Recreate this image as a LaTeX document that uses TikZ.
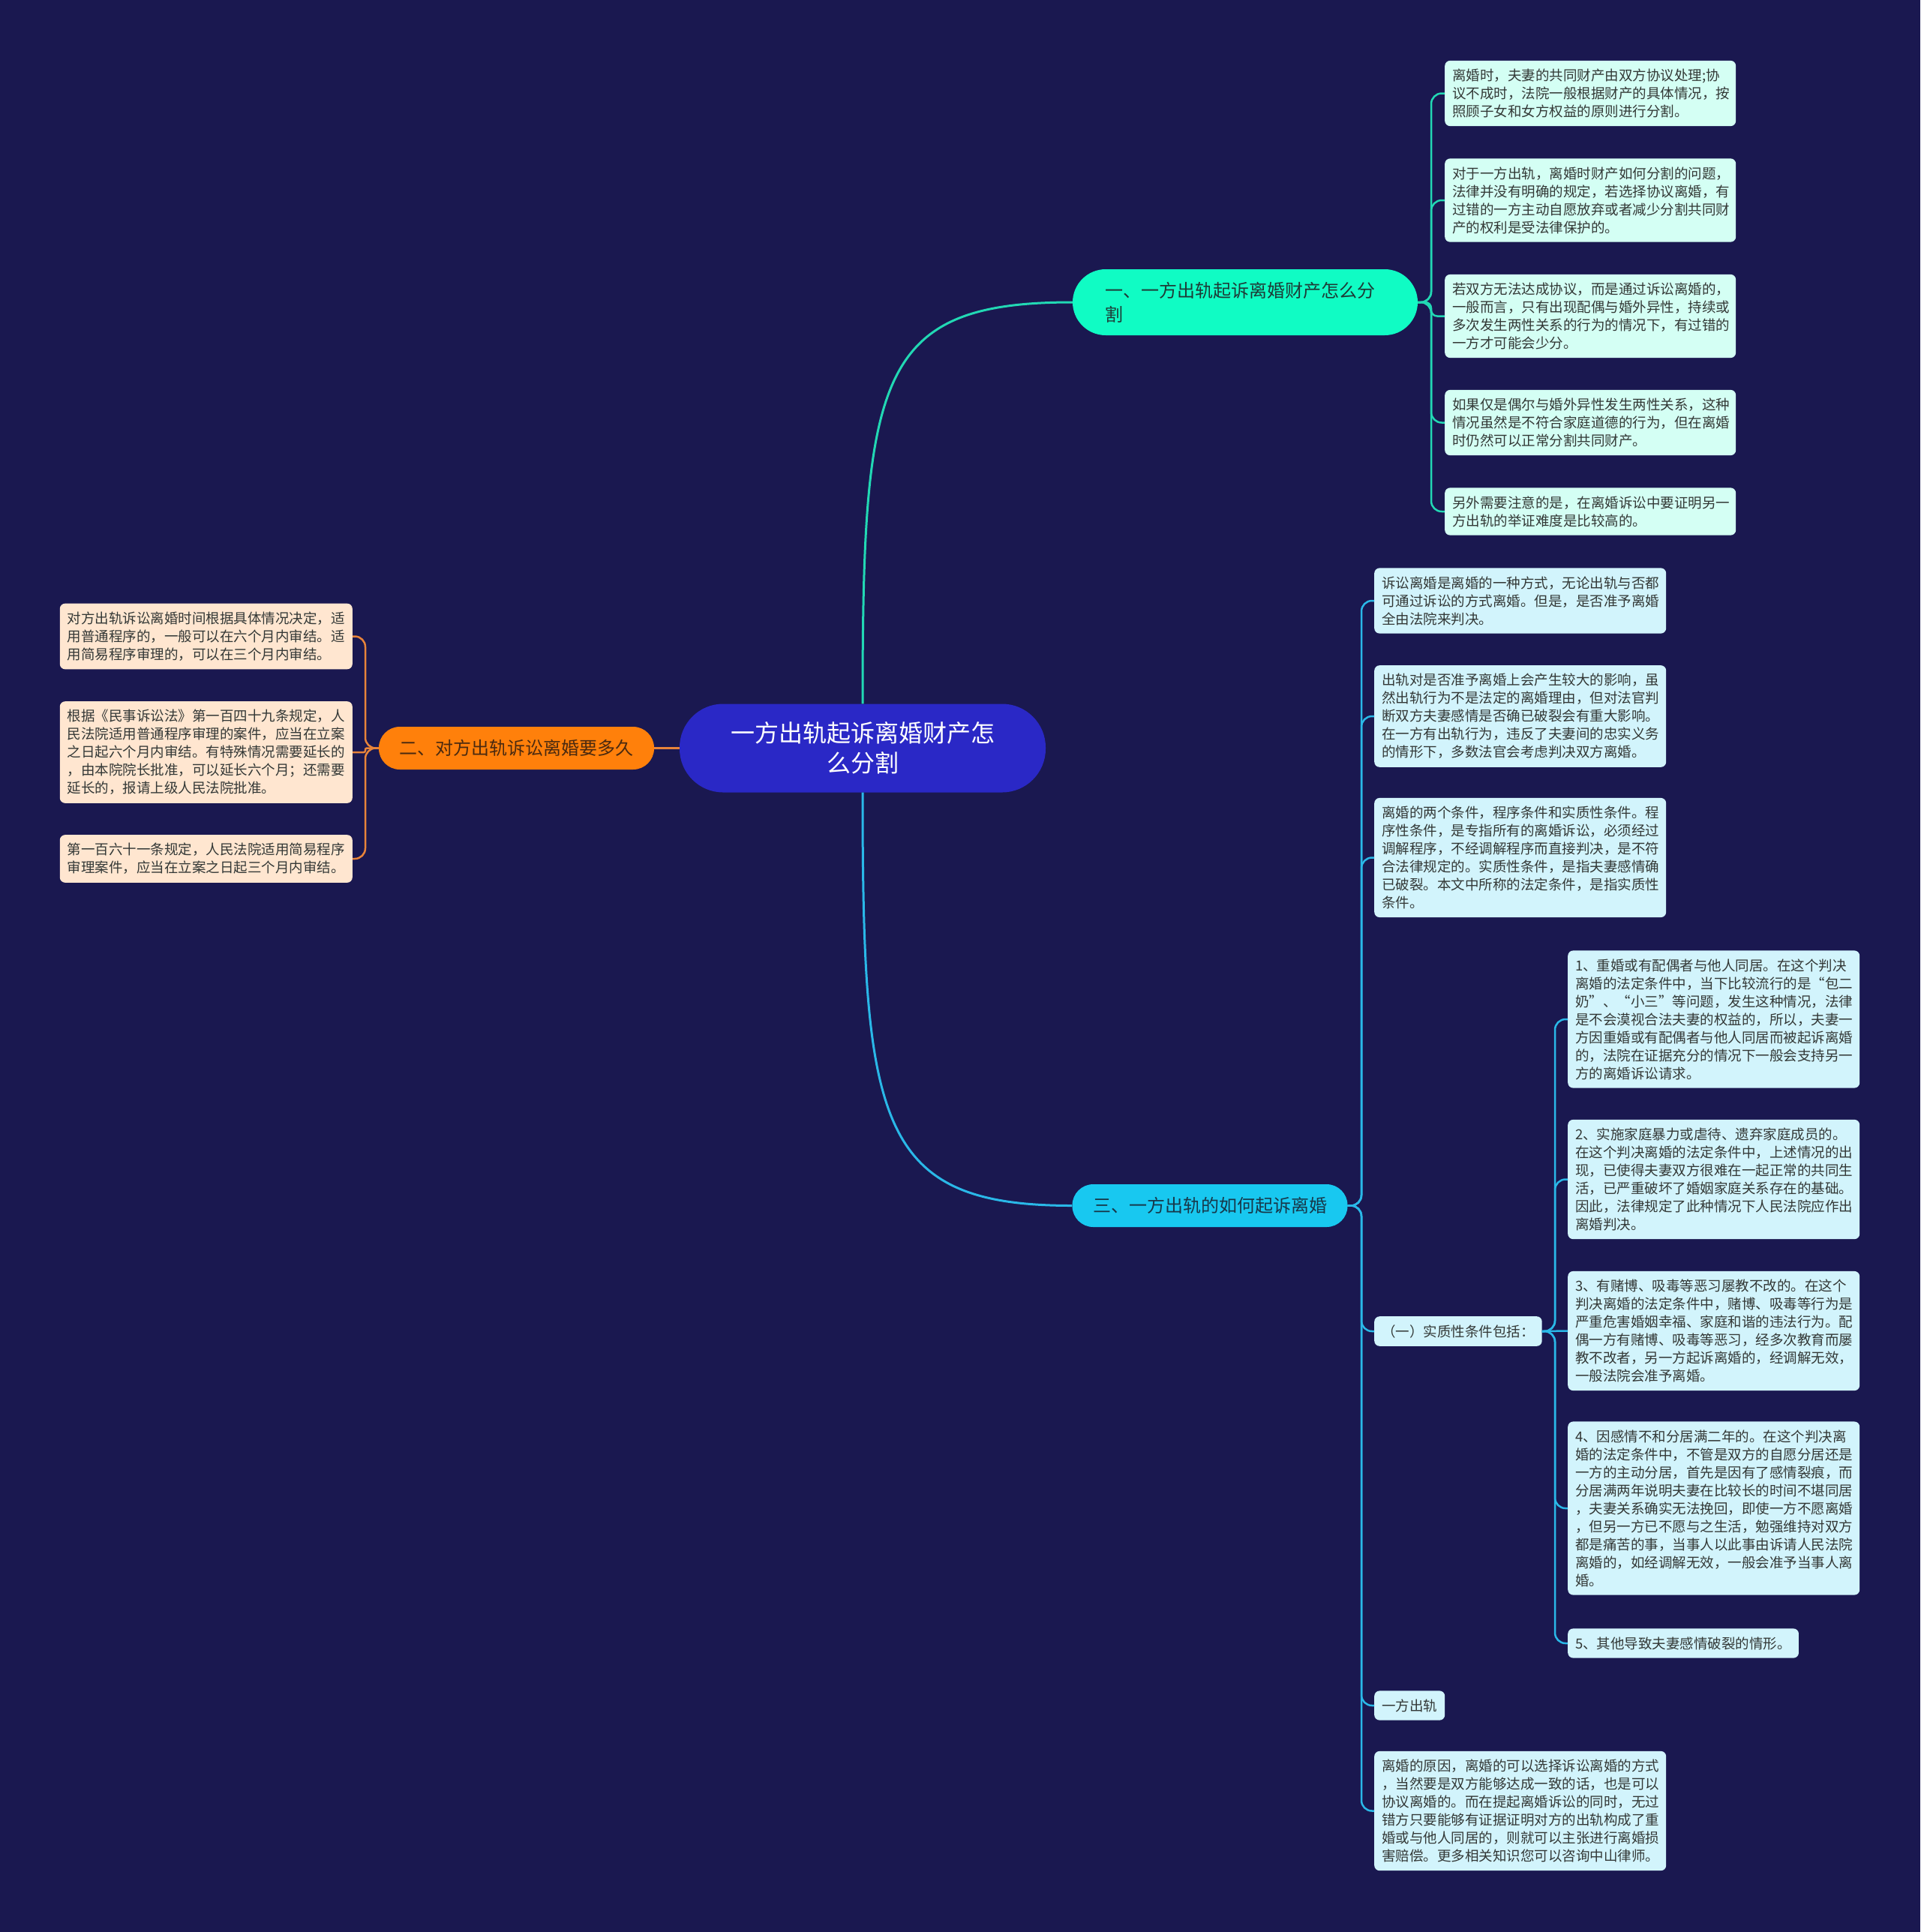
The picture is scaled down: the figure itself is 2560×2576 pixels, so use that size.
\documentclass[tikz,border=0pt]{standalone}
\usepackage{fontspec}
\setmainfont{Noto Sans CJK SC}
\usetikzlibrary{calc}
\definecolor{bgc}{HTML}{1A1850}
\definecolor{cfill}{HTML}{2A28C6}
\definecolor{bAfill}{HTML}{10FCC4}
\definecolor{bBfill}{HTML}{FF800B}
\definecolor{bCfill}{HTML}{18C8F0}
\definecolor{lAfill}{HTML}{D4FFF4}
\definecolor{lBfill}{HTML}{FFE6D0}
\definecolor{lCfill}{HTML}{D2F4FC}
\definecolor{lineA}{HTML}{22D8B4}
\definecolor{lineB}{HTML}{E8843A}
\definecolor{lineC}{HTML}{2AB8E8}
\definecolor{btxtA}{HTML}{1E3A36}
\definecolor{btxtB}{HTML}{4A2A10}
\definecolor{btxtC}{HTML}{17384A}
\definecolor{ltxt}{HTML}{333836}
\newcommand\leaffont{\fontsize{18.5}{24}\selectfont}
\newcommand\branchfont{\fontsize{24}{32}\selectfont}
\newcommand\rootfont{\fontsize{32}{40}\selectfont}
\tikzset{
  rootbox/.style={fill=cfill, text=white, rounded corners=58pt, minimum width=488pt,
    minimum height=118pt, align=center, font=\rootfont, inner sep=0pt},
  branchbox/.style={rounded corners=28pt, minimum width=367pt, minimum height=57pt,
    align=center, font=\branchfont, inner sep=0pt},
  leafbase/.style={rounded corners=7pt, align=left, inner xsep=10pt, inner ysep=11pt,
    font=\leaffont, text=ltxt},
  leafA/.style={leafbase, fill=lAfill, text width=368pt, anchor=west},
  leafB/.style={leafbase, fill=lBfill, text width=370pt, anchor=east},
  leafC/.style={leafbase, fill=lCfill, text width=369pt, anchor=west},
  leafCs/.style={leafbase, fill=lCfill, anchor=west},
  mainA/.style={draw=lineA, line width=3pt},
  mainB/.style={draw=lineB, line width=3pt},
  mainC/.style={draw=lineC, line width=3pt},
  subA/.style={draw=lineA, line width=2.5pt, rounded corners=14pt},
  subB/.style={draw=lineB, line width=2.5pt, rounded corners=14pt},
  subC/.style={draw=lineC, line width=2.5pt, rounded corners=14pt}
}
\begin{document}
\begin{tikzpicture}[x=1pt,y=-1pt]
\useasboundingbox (0,0) rectangle (2560,2576);
\fill[bgc] (0,0) rectangle (2560,2576);

% root
\node[rootbox] (c) at (1150,997.5) {一方出轨起诉离婚财产怎\\么分割};

% branches
\node[branchbox, fill=bAfill, text=btxtA, minimum width=460pt, minimum height=88pt,
  rounded corners=44pt, align=left, text width=374pt, inner xsep=43pt] (b1) at (1660,403)
  {一、一方出轨起诉离婚财产怎么分\\割};
\node[branchbox, fill=bBfill, text=btxtB] (b2) at (688.5,997.5) {二、对方出轨诉讼离婚要多久};
\node[branchbox, fill=bCfill, text=btxtC] (b3) at (1613,1607.5) {三、一方出轨的如何起诉离婚};

% branch 1 leaves
\node[leafA] (l1a) at (1926,124.5) {离婚时，夫妻的共同财产由双方协议处理;协\\议不成时，法院一般根据财产的具体情况，按\\照顾子女和女方权益的原则进行分割。};
\node[leafA] (l1b) at (1926,267) {对于一方出轨，离婚时财产如何分割的问题，\\法律并没有明确的规定，若选择协议离婚，有\\过错的一方主动自愿放弃或者减少分割共同财\\产的权利是受法律保护的。};
\node[leafA] (l1c) at (1926,421.5) {若双方无法达成协议，而是通过诉讼离婚的，\\一般而言，只有出现配偶与婚外异性，持续或\\多次发生两性关系的行为的情况下，有过错的\\一方才可能会少分。};
\node[leafA] (l1d) at (1926,563.5) {如果仅是偶尔与婚外异性发生两性关系，这种\\情况虽然是不符合家庭道德的行为，但在离婚\\时仍然可以正常分割共同财产。};
\node[leafA] (l1e) at (1926,682) {另外需要注意的是，在离婚诉讼中要证明另一\\方出轨的举证难度是比较高的。};

% branch 2 leaves
\node[leafB] (l2a) at (470,848.5) {对方出轨诉讼离婚时间根据具体情况决定，适\\用普通程序的，一般可以在六个月内审结。适\\用简易程序审理的，可以在三个月内审结。};
\node[leafB] (l2b) at (470,1003) {根据《民事诉讼法》第一百四十九条规定，人\\民法院适用普通程序审理的案件，应当在立案\\之日起六个月内审结。有特殊情况需要延长的\\，由本院院长批准，可以延长六个月；还需要\\延长的，报请上级人民法院批准。};
\node[leafB] (l2c) at (470,1145) {第一百六十一条规定，人民法院适用简易程序\\审理案件，应当在立案之日起三个月内审结。};

% branch 3 leaves
\node[leafC] (l3a) at (1832,801) {诉讼离婚是离婚的一种方式，无论出轨与否都\\可通过诉讼的方式离婚。但是，是否准予离婚\\全由法院来判决。};
\node[leafC] (l3b) at (1832,955) {出轨对是否准予离婚上会产生较大的影响，虽\\然出轨行为不是法定的离婚理由，但对法官判\\断双方夫妻感情是否确已破裂会有重大影响。\\在一方有出轨行为，违反了夫妻间的忠实义务\\的情形下，多数法官会考虑判决双方离婚。};
\node[leafC] (l3c) at (1832,1143.5) {离婚的两个条件，程序条件和实质性条件。程\\序性条件，是专指所有的离婚诉讼，必须经过\\调解程序，不经调解程序而直接判决，是不符\\合法律规定的。实质性条件，是指夫妻感情确\\已破裂。本文中所称的法定条件，是指实质性\\条件。};
\node[leafCs] (l3d) at (1832,1775) {（一）实质性条件包括：};
\node[leafCs] (l3e) at (1832,2274) {一方出轨};
\node[leafC] (l3f) at (1832,2414.5) {离婚的原因，离婚的可以选择诉讼离婚的方式\\，当然要是双方能够达成一致的话，也是可以\\协议离婚的。而在提起离婚诉讼的同时，无过\\错方只要能够有证据证明对方的出轨构成了重\\婚或与他人同居的，则就可以主张进行离婚损\\害赔偿。更多相关知识您可以咨询中山律师。};

% sub leaves of (一)
\node[leafC] (s1) at (2090,1359) {1、重婚或有配偶者与他人同居。在这个判决\\离婚的法定条件中，当下比较流行的是“包二\\奶”、“小三”等问题，发生这种情况，法律\\是不会漠视合法夫妻的权益的，所以，夫妻一\\方因重婚或有配偶者与他人同居而被起诉离婚\\的，法院在证据充分的情况下一般会支持另一\\方的离婚诉讼请求。};
\node[leafC] (s2) at (2090,1572.5) {2、实施家庭暴力或虐待、遗弃家庭成员的。\\在这个判决离婚的法定条件中，上述情况的出\\现，已使得夫妻双方很难在一起正常的共同生\\活，已严重破坏了婚姻家庭关系存在的基础。\\因此，法律规定了此种情况下人民法院应作出\\离婚判决。};
\node[leafC] (s3) at (2090,1774.5) {3、有赌博、吸毒等恶习屡教不改的。在这个\\判决离婚的法定条件中，赌博、吸毒等行为是\\严重危害婚姻幸福、家庭和谐的违法行为。配\\偶一方有赌博、吸毒等恶习，经多次教育而屡\\教不改者，另一方起诉离婚的，经调解无效，\\一般法院会准予离婚。};
\node[leafC] (s4) at (2090,2011) {4、因感情不和分居满二年的。在这个判决离\\婚的法定条件中，不管是双方的自愿分居还是\\一方的主动分居，首先是因有了感情裂痕，而\\分居满两年说明夫妻在比较长的时间不堪同居\\，夫妻关系确实无法挽回，即使一方不愿离婚\\，但另一方已不愿与之生活，勉强维持对双方\\都是痛苦的事，当事人以此事由诉请人民法院\\离婚的，如经调解无效，一般会准予当事人离\\婚。};
\node[leafCs] (s5) at (2090,2191) {5、其他导致夫妻感情破裂的情形。};

% root connectors
\draw[mainA] (c.north) .. controls (1150,500) and (1170,403) .. (b1.west);
\draw[mainC] (c.south) .. controls (1150,1500) and (1170,1607.5) .. (b3.west);
\draw[mainB] (c.west) -- (b2.east);

% branch 1 connectors
\coordinate (k1) at (1908,403);
\foreach \n in {l1a,l1b,l1d,l1e} \draw[subA] (b1.east) -- (k1) |- (\n.west);
\draw[subA, rounded corners=8pt] (b1.east) -- (k1) |- (l1c.west);

% branch 2 connectors
\coordinate (k2) at (487,997.5);
\foreach \n in {l2a,l2c} \draw[subB] (b2.west) -- (k2) |- (\n.east);
\draw[subB, rounded corners=2pt] (b2.west) -- (k2) |- (l2b.east);

% branch 3 connectors
\coordinate (k3) at (1815,1607.5);
\foreach \n in {l3a,l3b,l3c,l3d,l3e,l3f} \draw[subC] (b3.east) -- (k3) |- (\n.west);

% (一) connectors
\coordinate (k4) at (2073,1775);
\foreach \n in {s1,s2,s4,s5} \draw[subC] (l3d.east) -- (k4) |- (\n.west);
\draw[subC] (l3d.east) -- (s3.west);
\end{tikzpicture}
\end{document}
